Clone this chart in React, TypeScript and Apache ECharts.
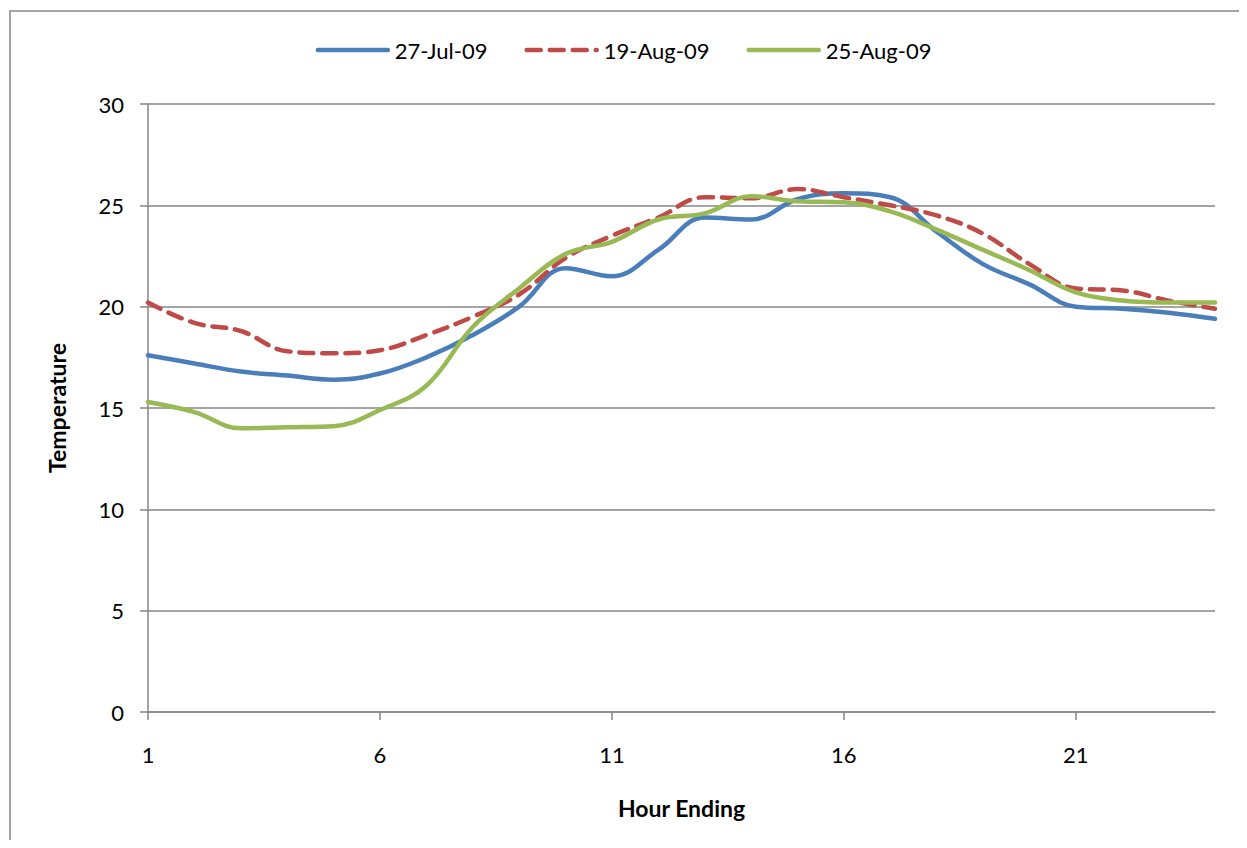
import React, { useEffect, useRef } from "react";
import * as echarts from "echarts";

const hours = ["1","2","3","4","5","6","7","8","9","10","11","12","13","14","15","16","17","18","19","20","21","22","23","24"];
const jul27 = [17.6, 17.2, 16.8, 16.6, 16.4, 16.7, 17.5, 18.6, 20.0, 21.9, 21.5, 22.8, 24.4, 24.3, 25.3, 25.6, 25.4, 23.7, 22.1, 21.1, 20.0, 19.9, 19.7, 19.4];
const aug19 = [20.2, 19.2, 18.8, 17.8, 17.7, 17.85, 18.6, 19.5, 20.6, 22.4, 23.5, 24.4, 25.4, 25.35, 25.8, 25.4, 25.0, 24.5, 23.6, 22.1, 20.9, 20.8, 20.3, 19.9];
const aug25 = [15.3, 14.8, 14.0, 14.05, 14.1, 14.9, 16.1, 19.0, 20.9, 22.6, 23.2, 24.3, 24.6, 25.45, 25.2, 25.15, 24.7, 23.8, 22.8, 21.8, 20.7, 20.3, 20.2, 20.2];
const seriesNames = ["27-Jul-09", "19-Aug-09", "25-Aug-09"];

const FONT = "Lato, 'Open Sans', sans-serif";
const GRAY = "#868686";

export default function App() {
  const ref = useRef<HTMLDivElement>(null);
  useEffect(() => {
    if (!ref.current) return;
    const chart = echarts.init(ref.current, null, { renderer: "svg" });
    chart.setOption({
      animation: false,
      backgroundColor: "#ffffff",
      textStyle: { fontFamily: FONT },
      graphic: [
        {
          type: "rect",
          shape: { x: 2, y: 3, width: 1400, height: 1000 },
          style: { fill: "none", stroke: GRAY, lineWidth: 1.5 },
          silent: true,
        },
      ],
      legend: {
        top: 26,
        left: "center",
        itemWidth: 70,
        itemHeight: 14,
        itemGap: 37,
        itemStyle: { opacity: 0, borderWidth: 0 },
        lineStyle: { width: 4.5, cap: "round" },
        textStyle: { fontFamily: FONT, fontSize: 22, color: "#000", padding: [0, 0, 0, 2] },
        data: seriesNames,
      },
      grid: { left: 140, top: 96, right: 24, bottom: 128, containLabel: false },
      xAxis: {
        type: "category",
        data: hours,
        boundaryGap: false,
        name: "Hour Ending",
        nameLocation: "middle",
        nameGap: 84,
        nameTextStyle: { fontFamily: FONT, fontSize: 23, fontWeight: "bold", color: "#000" },
        axisLine: { lineStyle: { color: GRAY, width: 1.5 } },
        axisTick: { show: true, interval: 4, length: 8, lineStyle: { color: GRAY, width: 1.5 } },
        axisLabel: { interval: 4, margin: 31, fontFamily: FONT, fontSize: 22, color: "#000" },
        splitLine: { show: false },
      },
      yAxis: {
        type: "value",
        min: 0,
        max: 30,
        interval: 5,
        name: "Temperature",
        nameLocation: "middle",
        nameGap: 80,
        nameRotate: 90,
        nameTextStyle: { fontFamily: FONT, fontSize: 23, fontWeight: "bold", color: "#000" },
        axisLine: { show: true, lineStyle: { color: GRAY, width: 1.5 } },
        axisTick: { show: true, length: 8, lineStyle: { color: GRAY, width: 1.5 } },
        axisLabel: { margin: 24, fontFamily: FONT, fontSize: 22, color: "#000" },
        splitLine: { show: true, lineStyle: { color: GRAY, width: 1.5 } },
      },
      series: [
        {
          name: seriesNames[0],
          type: "line",
          data: jul27,
          smooth: 0.4,
          symbol: "none",
          color: "#4A7EBB",
          lineStyle: { color: "#4A7EBB", width: 4.5, cap: "round" },
        },
        {
          name: seriesNames[1],
          type: "line",
          data: aug19,
          smooth: 0.4,
          symbol: "none",
          color: "#BE4B48",
          lineStyle: { color: "#BE4B48", width: 4.5, type: [14, 9], cap: "round" },
        },
        {
          name: seriesNames[2],
          type: "line",
          data: aug25,
          smooth: 0.4,
          symbol: "none",
          color: "#98B954",
          lineStyle: { color: "#98B954", width: 4.5, cap: "round" },
        },
      ],
    });
    return () => chart.dispose();
  }, []);
  return <div ref={ref} style={{ width: 1231, height: 832 }} />;
}
